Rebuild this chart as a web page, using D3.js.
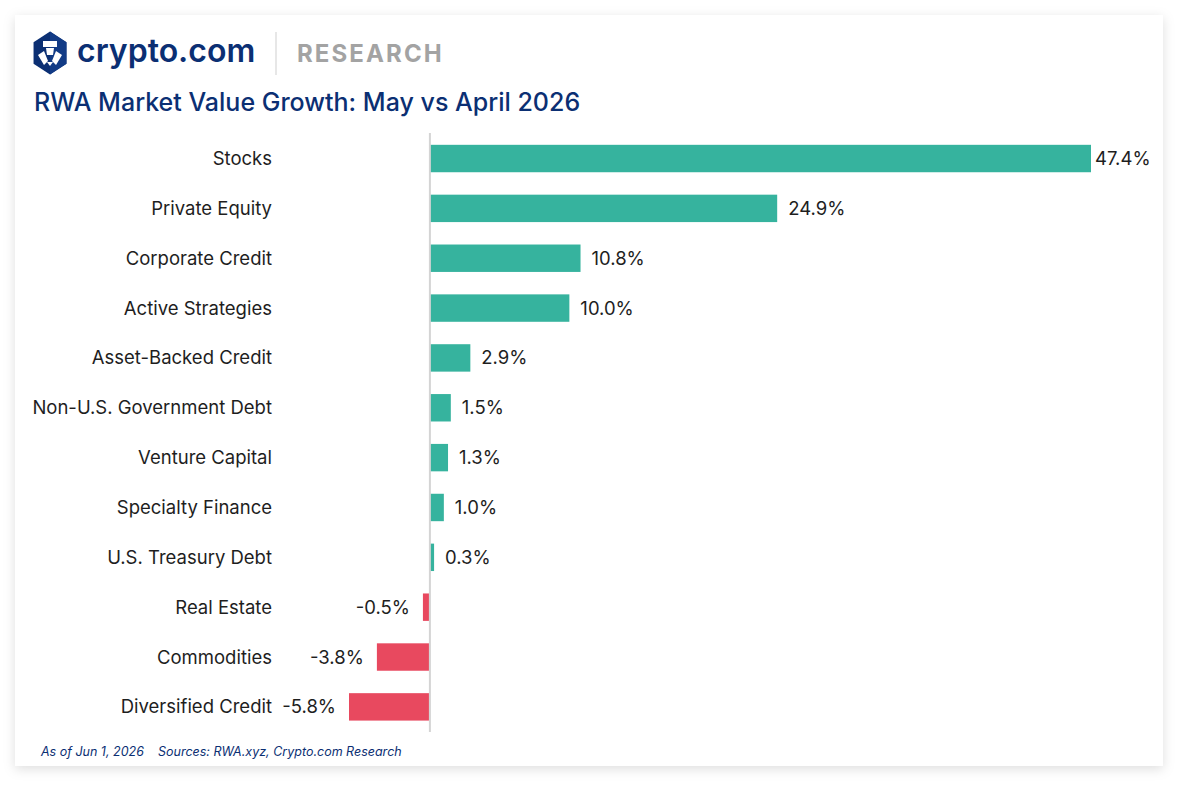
<!DOCTYPE html>
<html>
<head>
<meta charset="utf-8">
<script src="https://cdn.jsdelivr.net/npm/d3@7"></script>
<style>
  body { margin: 0; background: #ffffff; }
  text { font-family: Inter, "Noto Sans", sans-serif; }
</style>
</head>
<body>
<div id="chart"></div>
<script>
// Data
var categories = ["Stocks", "Private Equity", "Corporate Credit", "Active Strategies",
  "Asset-Backed Credit", "Non-U.S. Government Debt", "Venture Capital", "Specialty Finance",
  "U.S. Treasury Debt", "Real Estate", "Commodities", "Diversified Credit"];
var growth = [47.4, 24.9, 10.8, 10.0, 2.9, 1.5, 1.3, 1.0, 0.3, -0.5, -3.8, -5.8];
var valueLabels = ["47.4%", "24.9%", "10.8%", "10.0%", "2.9%", "1.5%", "1.3%", "1.0%", "0.3%", "-0.5%", "-3.8%", "-5.8%"];

var svgWidth = 1187;
var svgHeight = 790;

var svg = d3.select("#chart")
  .append("svg")
  .attr("width", svgWidth)
  .attr("height", svgHeight);

// card shadow
var defs = svg.append("defs");
var filter = defs.append("filter")
  .attr("id", "shadow")
  .attr("x", "-5%").attr("y", "-5%")
  .attr("width", "110%").attr("height", "112%");
filter.append("feDropShadow")
  .attr("dx", 0).attr("dy", 3)
  .attr("stdDeviation", 6)
  .attr("flood-color", "#000")
  .attr("flood-opacity", 0.13);

svg.append("rect")
  .attr("x", 15).attr("y", 15)
  .attr("width", 1148).attr("height", 751)
  .attr("fill", "#fff")
  .attr("filter", "url(#shadow)");

// Header: logo
var logo = svg.append("g").attr("transform", "translate(50,53)");
var hex = d3.range(6).map(function(i) {
  var a = Math.PI / 3 * i - Math.PI / 2;
  return [19 * Math.cos(a), 21.5 * Math.sin(a)];
});
logo.append("path")
  .attr("d", "M" + hex.join("L") + "Z")
  .attr("fill", "#0b2f73");
logo.append("path")
  .attr("d", "M" + hex[0] + "L" + hex[1] + "L" + hex[2] + "L" + hex[3] + "L0,0Z")
  .attr("fill", "#123b86");
// lion-ish mark
logo.append("rect").attr("x", -7).attr("y", -12).attr("width", 14).attr("height", 6).attr("fill", "#fff");
logo.append("path").attr("d", "M-4,-5L4,-5L3,2L-3,2Z").attr("fill", "#fff");
logo.append("path").attr("d", "M-12,2L-6,-2L-2,8L-6,12Z").attr("fill", "#fff");
logo.append("path").attr("d", "M12,2L6,-2L2,8L6,12Z").attr("fill", "#fff");
logo.append("path").attr("d", "M-3,9L3,9L0,13Z").attr("fill", "#fff");

svg.append("text")
  .attr("x", 77).attr("y", 62)
  .attr("font-size", "32px")
  .attr("font-weight", 600)
  .attr("fill", "#0b2f73")
  .text("crypto.com");

svg.append("line")
  .attr("x1", 276).attr("x2", 276)
  .attr("y1", 32).attr("y2", 75)
  .attr("stroke", "#cfcfcf").attr("stroke-width", 1);

svg.append("text")
  .attr("x", 297).attr("y", 62)
  .attr("font-size", "24px")
  .attr("font-weight", 700)
  .attr("letter-spacing", "2.1px")
  .attr("fill", "#a3a3a3")
  .text("RESEARCH");

svg.append("text")
  .attr("x", 34).attr("y", 111)
  .attr("font-size", "25px")
  .attr("font-weight", 500)
  .attr("fill", "#0b2f73")
  .text("RWA Market Value Growth: May vs April 2026");

// Scales
var xScale = d3.scaleLinear()
  .domain([-5.8, 47.4])
  .range([349, 1091]);

var yScale = d3.scaleBand()
  .domain(categories)
  .range([133.6, 731.8])
  .paddingInner(0.45)
  .paddingOuter(0.225);

var data = categories.map(function(c, i) {
  return { name: c, value: growth[i], label: valueLabels[i] };
});

var chartGroup = svg.append("g");

// Bars
chartGroup.selectAll("rect.bar")
  .data(data)
  .enter()
  .append("rect")
  .attr("class", "bar")
  .attr("x", d => d.value >= 0 ? xScale(0) : xScale(d.value))
  .attr("y", d => yScale(d.name))
  .attr("width", d => Math.abs(xScale(d.value) - xScale(0)))
  .attr("height", yScale.bandwidth())
  .attr("fill", d => d.value >= 0 ? "#36b39e" : "#e8495f");

// zero line
chartGroup.append("line")
  .attr("x1", xScale(0)).attr("x2", xScale(0))
  .attr("y1", 133).attr("y2", 732)
  .attr("stroke", "#d4d4d4")
  .attr("stroke-width", 2);

// Category labels
chartGroup.selectAll("text.cat")
  .data(data)
  .enter()
  .append("text")
  .attr("class", "cat")
  .attr("x", 272)
  .attr("y", d => yScale(d.name) + yScale.bandwidth() / 2)
  .attr("dy", "0.35em")
  .attr("text-anchor", "end")
  .attr("font-size", "18.5px")
  .attr("fill", "#1e1e1e")
  .text(d => d.name);

// Value labels (the longest one is pulled in so it stays inside the card)
chartGroup.selectAll("text.val")
  .data(data)
  .enter()
  .append("text")
  .attr("class", "val")
  .attr("x", d => d.value >= 0 ? Math.min(xScale(d.value) + 11, 1095) : xScale(d.value) - 13)
  .attr("y", d => yScale(d.name) + yScale.bandwidth() / 2)
  .attr("dy", "0.35em")
  .attr("text-anchor", d => d.value >= 0 ? "start" : "end")
  .attr("font-size", "18.5px")
  .attr("fill", "#1e1e1e")
  .text(d => d.label);

// Footer
svg.append("text")
  .attr("x", 41).attr("y", 756)
  .attr("font-size", "12.5px")
  .attr("font-style", "italic")
  .attr("fill", "#0b2f73")
  .text("As of Jun 1, 2026");

svg.append("text")
  .attr("x", 158).attr("y", 756)
  .attr("font-size", "12.5px")
  .attr("font-style", "italic")
  .attr("fill", "#0b2f73")
  .text("Sources: RWA.xyz, Crypto.com Research");
</script>
</body>
</html>
